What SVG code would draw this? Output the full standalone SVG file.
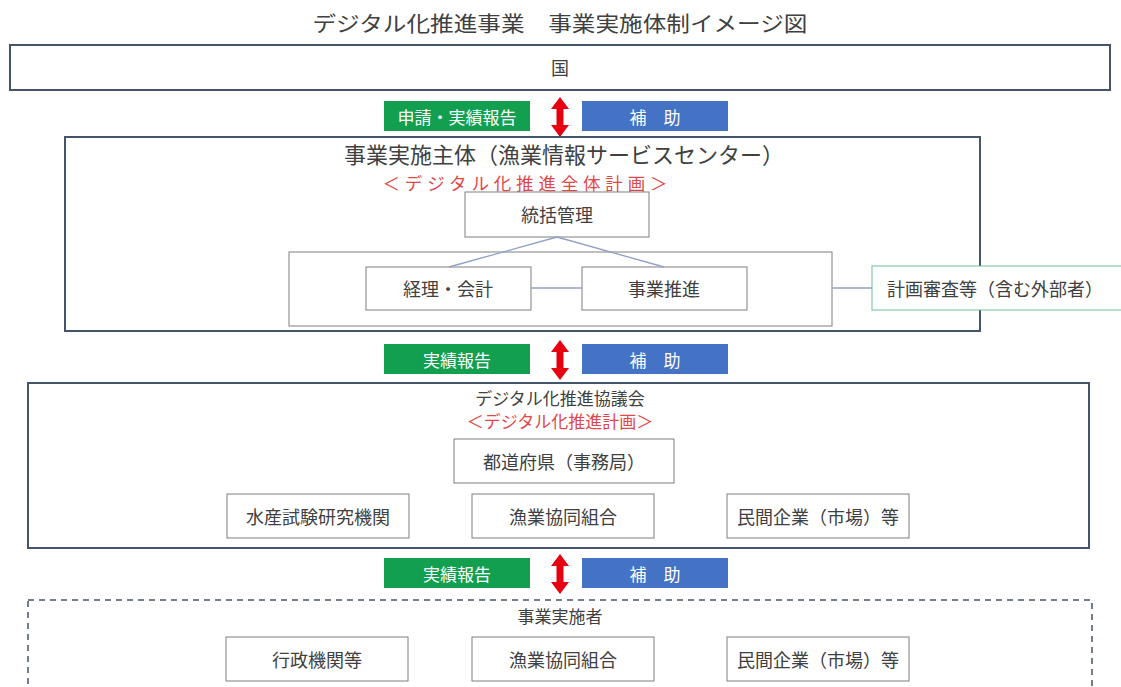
<svg xmlns="http://www.w3.org/2000/svg" width="1121" height="687" viewBox="0 0 1121 687">
<defs>
<style>
text{font-family:"Noto Sans CJK JP","Noto Sans",sans-serif;fill:#404040;dominant-baseline:central;text-anchor:middle}
.t16{font-size:18px}
.lbl{font-size:17px;fill:#ffffff}
.red{font-size:18px;fill:#e04848}
.outer{fill:#ffffff;stroke:#44546a;stroke-width:2}
.box{fill:#ffffff;stroke:#7f7f7f;stroke-width:1}
.green{fill:#12a050}
.blue{fill:#4472c4}
.conn{stroke:#8ea0c4;stroke-width:1.3;fill:none}
</style>
<g id="arrowShape">
<polygon points="0,0 9,12 3.5,12 3.5,28 9,28 0,40 -9,28 -3.5,28 -3.5,12 -9,12" fill="#e60012"/>
</g>
</defs>
<rect width="1121" height="687" fill="#ffffff"/>
<text x="560" y="22" style="font-size:21px" textLength="495" lengthAdjust="spacingAndGlyphs">デジタル化推進事業　事業実施体制イメージ図</text>

<g id="kuni">
<rect class="outer" x="10" y="45" width="1100" height="45"/>
<text class="t16" x="560" y="67">国</text>
</g>

<g id="flow1">
<rect class="green" x="384" y="101" width="146" height="30"/>
<text class="lbl" x="457" y="116">申請・実績報告</text>
<use href="#arrowShape" x="560" y="97"/>
<rect class="blue" x="582" y="101" width="146" height="30"/>
<text class="lbl" x="655" y="116">補　助</text>
</g>

<g id="main">
<rect class="outer" x="65" y="137" width="915" height="194"/>
<text x="564" y="153" style="font-size:22px">事業実施主体（漁業情報サービスセンター）</text>
<text class="red" x="525" y="182" style="font-size:17.5px" textLength="285" lengthAdjust="spacing">＜デジタル化推進全体計画＞</text>
<rect class="box" x="289" y="252" width="543" height="74"/>
</g>
<g id="toukatsu">
<rect class="box" x="465" y="192" width="184" height="45"/>
<text class="t16" x="557" y="214">統括管理</text>
</g>
<g id="keiri">
<rect class="box" x="366" y="267" width="165" height="43"/>
<text class="t16" x="448" y="288">経理・会計</text>
</g>
<g id="suishin">
<rect class="box" x="582" y="267" width="165" height="43"/>
<text class="t16" x="664" y="288">事業推進</text>
</g>
<g id="shinsa">
<rect x="872" y="266" width="260" height="44" fill="#ffffff" stroke="#6fbf95" stroke-width="1"/>
<text class="t16" x="995" y="288">計画審査等（含む外部者）</text>
</g>

<g id="flow2">
<rect class="green" x="384" y="344" width="146" height="30"/>
<text class="lbl" x="457" y="359">実績報告</text>
<use href="#arrowShape" x="560" y="340"/>
<rect class="blue" x="582" y="344" width="146" height="30"/>
<text class="lbl" x="655" y="359">補　助</text>
</g>

<g id="kyogikai">
<rect class="outer" x="28" y="383" width="1061" height="165"/>
<text x="560" y="397" style="font-size:17px">デジタル化推進協議会</text>
<text class="red" x="560" y="420" style="font-size:17px">＜デジタル化推進計画＞</text>
</g>
<g id="todofuken">
<rect class="box" x="454" y="439" width="220" height="44"/>
<text class="t16" x="564" y="461">都道府県（事務局）</text>
</g>
<g id="suisan">
<rect class="box" x="227" y="494" width="182" height="44"/>
<text class="t16" x="318" y="516">水産試験研究機関</text>
</g>
<g id="gyokyo1">
<rect class="box" x="472" y="494" width="182" height="44"/>
<text class="t16" x="563" y="516">漁業協同組合</text>
</g>
<g id="minkan1">
<rect class="box" x="727" y="494" width="182" height="44"/>
<text class="t16" x="818" y="516">民間企業（市場）等</text>
</g>

<g id="flow3">
<rect class="green" x="384" y="558" width="146" height="30"/>
<text class="lbl" x="457" y="573">実績報告</text>
<use href="#arrowShape" x="560" y="554"/>
<rect class="blue" x="582" y="558" width="146" height="30"/>
<text class="lbl" x="655" y="573">補　助</text>
</g>

<g id="jisshisha">
<rect x="28" y="600" width="1064" height="100" fill="none" stroke="#44546a" stroke-width="1.5" stroke-dasharray="6,5"/>
<text x="560" y="615" style="font-size:17px">事業実施者</text>
</g>
<g id="gyosei">
<rect class="box" x="226" y="637" width="182" height="44"/>
<text class="t16" x="317" y="659">行政機関等</text>
</g>
<g id="gyokyo2">
<rect class="box" x="472" y="637" width="182" height="44"/>
<text class="t16" x="563" y="659">漁業協同組合</text>
</g>
<g id="minkan2">
<rect class="box" x="727" y="637" width="182" height="44"/>
<text class="t16" x="818" y="659">民間企業（市場）等</text>
</g>

<g id="connectors">
<line class="conn" x1="557" y1="237" x2="449" y2="267"/>
<line class="conn" x1="557" y1="237" x2="664" y2="267"/>
<line class="conn" x1="531" y1="288" x2="582" y2="288"/>
<line class="conn" x1="832" y1="288" x2="872" y2="288"/>
</g>
</svg>
